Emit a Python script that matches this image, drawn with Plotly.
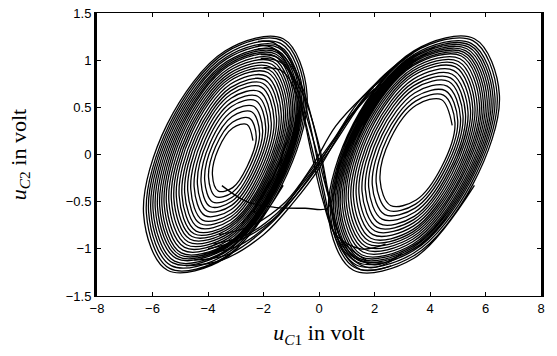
import plotly.graph_objects as go

# ---- loop extents (inner loop -> outer loop) ----
LEFT_XL = [-3.84, -3.98, -4.12, -4.25, -4.38, -4.50, -4.62, -4.73, -4.84, -4.94,
           -5.04, -5.14, -5.23, -5.32, -5.41, -5.50, -5.58, -5.66, -5.74, -5.82,
           -5.90, -5.98, -6.06, -6.14, -6.22, -6.32]
LEFT_XR = [-2.38, -2.26, -2.14, -2.03, -1.92, -1.82, -1.72, -1.62, -1.53, -1.44,
           -1.36, -1.28, -1.21, -1.14, -1.07, -1.01, -0.95, -0.89, -0.83, -0.78,
           -0.73, -0.68, -0.63, -0.57, -0.50, -0.43]
LEFT_YT = [0.33, 0.40, 0.47, 0.53, 0.59, 0.64, 0.69, 0.74, 0.78, 0.82,
           0.86, 0.90, 0.93, 0.96, 0.99, 1.02, 1.05, 1.08, 1.10, 1.12,
           1.14, 1.17, 1.19, 1.22, 1.25, 1.27]
LEFT_YB = [-0.40, -0.46, -0.52, -0.57, -0.62, -0.67, -0.72, -0.76, -0.80, -0.84,
           -0.87, -0.90, -0.93, -0.96, -0.99, -1.02, -1.05, -1.08, -1.10, -1.12,
           -1.14, -1.17, -1.19, -1.22, -1.25, -1.27]

RIGHT_XL = [2.20, 2.06, 1.92, 1.79, 1.67, 1.55, 1.44, 1.34, 1.24, 1.15, 1.06,
            0.98, 0.91, 0.84, 0.77, 0.71, 0.65, 0.59, 0.53, 0.47, 0.41, 0.34]
RIGHT_XR = [4.80, 4.90, 5.00, 5.10, 5.19, 5.28, 5.37, 5.46, 5.54, 5.62, 5.70,
            5.78, 5.85, 5.92, 5.99, 6.06, 6.13, 6.20, 6.27, 6.34, 6.42, 6.50]
RIGHT_YT = [0.60, 0.65, 0.70, 0.75, 0.80, 0.84, 0.88, 0.92, 0.96, 0.99, 1.02,
            1.05, 1.08, 1.10, 1.12, 1.14, 1.16, 1.18, 1.20, 1.22, 1.25, 1.27]
RIGHT_YB = [-0.56, -0.61, -0.66, -0.71, -0.76, -0.80, -0.84, -0.88, -0.92, -0.95, -0.98,
            -1.01, -1.04, -1.07, -1.10, -1.12, -1.14, -1.16, -1.18, -1.21, -1.24, -1.27]

# outline of one (tilted) loop, as fractions of its bounding box
RING_FX = [1.000, 0.854, 0.500, 0.146, 0.000, 0.146, 0.500, 0.854]
RING_FY = [0.750, 0.983, 0.933, 0.629, 0.250, 0.017, 0.067, 0.371]

# crossing strands between the two scrolls (read points)
CROSS_X = [
    [-2.2, -1.6, -0.85, -0.35, 0.15, 0.65, 1.5, 2.6],
    [-2.2, -1.5, -0.7, -0.15, 0.35, 0.85, 1.8, 2.8],
    [-2.1, -1.4, -0.6, 0.0, 0.45, 1.0, 2.0, 3.0],
    [-2.0, -1.3, -0.7, -0.3, 0.15, 0.6, 1.5, 2.4],
    [-2.2, -1.6, -0.9, -0.45, 0.05, 0.5, 1.3, 2.3],
    [-2.1, -1.45, -0.8, -0.2, 0.3, 0.8, 1.7],
    [-4.5, -3.2, -1.8, -0.6, 0.4, 1.3, 2.2, 3.2],
    [-4.2, -3.0, -1.6, -0.5, 0.5, 1.4, 2.4, 3.4],
    [-3.8, -2.6, -1.5, -0.7, 0.2, 1.1, 2.0],
    [-3.6, -2.4, -1.2, -0.3, 0.6, 1.6, 2.5],
    [-4.8, -3.5, -2.0, -0.9, 0.0, 0.9, 1.9, 3.0],
    [-4.0, -2.8, -1.7, -0.8, 0.1, 1.0, 2.1],
    [-3.5, -2.6, -1.6, -0.5, 0.3, 0.55, 0.7],
]
CROSS_Y = [
    [1.20, 1.18, 0.90, 0.35, -0.35, -0.92, -1.22, -1.18],
    [1.12, 1.10, 0.78, 0.25, -0.45, -1.00, -1.20, -1.10],
    [1.02, 0.98, 0.65, 0.10, -0.55, -1.00, -1.17, -1.05],
    [0.92, 0.88, 0.55, 0.05, -0.50, -0.85, -1.00, -0.95],
    [1.16, 1.12, 0.80, 0.30, -0.30, -0.80, -1.10, -1.15],
    [1.06, 1.02, 0.70, 0.15, -0.40, -0.90, -1.12],
    [-1.12, -1.05, -0.75, -0.35, 0.05, 0.45, 0.80, 1.05],
    [-1.05, -0.98, -0.68, -0.25, 0.15, 0.55, 0.85, 1.08],
    [-0.95, -0.85, -0.62, -0.35, 0.00, 0.40, 0.70],
    [-0.85, -0.75, -0.50, -0.15, 0.30, 0.62, 0.85],
    [-1.18, -1.12, -0.85, -0.50, -0.15, 0.30, 0.70, 1.00],
    [-1.00, -0.90, -0.70, -0.42, -0.05, 0.35, 0.72],
    [-0.33, -0.50, -0.56, -0.57, -0.57, -0.40, -0.10],
]


def spiral(xl, xr, yt, yb):
    xs, ys = [], []
    for a, b, c, d in zip(xl, xr, yt, yb):
        for fx, fy in zip(RING_FX, RING_FY):
            xs.append(a + fx * (b - a))
            ys.append(d + fy * (c - d))
    return xs, ys


LINE = dict(color="black", width=1.3, shape="spline", smoothing=1.0)

fig = go.Figure()
for xl, xr, yt, yb in [(LEFT_XL, LEFT_XR, LEFT_YT, LEFT_YB),
                       (RIGHT_XL, RIGHT_XR, RIGHT_YT, RIGHT_YB)]:
    sx, sy = spiral(xl, xr, yt, yb)
    fig.add_trace(go.Scatter(x=sx, y=sy, mode="lines", line=LINE,
                             showlegend=False, hoverinfo="skip"))
for cx, cy in zip(CROSS_X, CROSS_Y):
    fig.add_trace(go.Scatter(x=cx, y=cy, mode="lines", line=LINE,
                             showlegend=False, hoverinfo="skip"))

TICK_FONT = dict(family="Liberation Sans, Arial", size=13, color="black")
TITLE_FONT = dict(family="Liberation Serif, Times New Roman", size=22, color="black")

fig.update_layout(
    width=557, height=356,
    margin=dict(l=97, r=16, t=6, b=60),
    paper_bgcolor="white", plot_bgcolor="white",
    xaxis=dict(range=[-8, 8], tickvals=[-8, -6, -4, -2, 0, 2, 4, 6, 8],
               ticks="inside", ticklen=4, tickcolor="black", showgrid=False, zeroline=False,
               showline=True, linecolor="black", linewidth=1, mirror="ticks",
               tickfont=TICK_FONT, ticklabeloverflow="allow",
               title=dict(text="<i>u</i><sub><i>C</i>1</sub> in volt", font=TITLE_FONT, standoff=10)),
    yaxis=dict(range=[-1.5, 1.5], tickvals=[-1.5, -1, -0.5, 0, 0.5, 1, 1.5],
               ticks="inside", ticklen=4, tickcolor="black", showgrid=False, zeroline=False,
               showline=True, linecolor="black", linewidth=3, mirror="ticks",
               tickfont=TICK_FONT, ticklabeloverflow="allow",
               title=dict(text="<i>u</i><sub><i>C</i>2</sub> in volt", font=TITLE_FONT, standoff=34)),
)

fig.write_html("out.html")
